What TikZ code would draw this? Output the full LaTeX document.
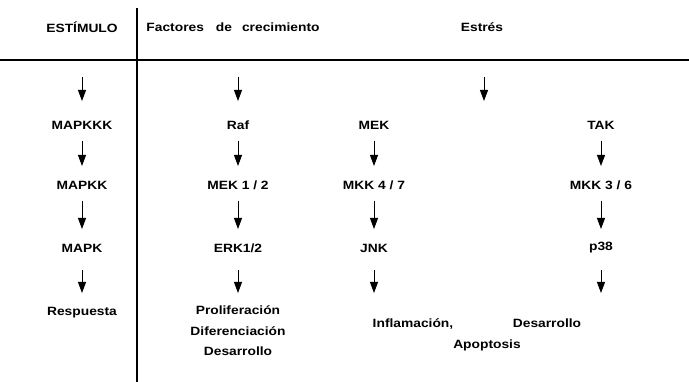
\documentclass[tikz,border=0pt]{standalone}
\usepackage{fontspec}
\setmainfont{Liberation Sans}[FakeStretch=1.15]
\usetikzlibrary{arrows.meta}
\begin{document}
\begin{tikzpicture}[x=1pt,y=-1pt,
  lbl/.style={font=\fontsize{12}{14}\selectfont\bfseries, inner sep=1pt, align=center},
  arr/.style={line width=0.9pt, -{Triangle[width=8pt,length=11pt]}, shorten <=16pt, shorten >=19pt},
  tarr/.style={line width=0.9pt, -{Triangle[width=8pt,length=11pt]}},
  rule/.style={line width=1.6pt}]
\useasboundingbox (0,0) rectangle (689,382);
% frame lines
\draw[rule] (0,60) -- (689,60);
\draw[rule] (137,8) -- (137,382);
% headers
\node[lbl] (h1) at (82,27) {ESTÍMULO};
\node[lbl] (h2) at (233,27) {Factores\hspace{12pt}de\hspace{10pt}crecimiento};
\node[lbl] (h3) at (482,27) {Estrés};
% column 1
\node[lbl] (a1) at (82,125) {MAPKKK};
\node[lbl] (a2) at (82,185) {MAPKK};
\node[lbl] (a3) at (82,248) {MAPK};
\node[lbl] (a4) at (82,313) {Respuesta};
% column 2
\node[lbl] (b1) at (238,125) {Raf};
\node[lbl] (b2) at (238,185) {MEK 1 / 2};
\node[lbl] (b3) at (238,248) {ERK1/2};
\node[lbl, anchor=north] (b4) at (238,304) {Proliferación\\[7pt]Diferenciación\\[7pt]Desarrollo};
% column 3
\node[lbl] (c1) at (374,125) {MEK};
\node[lbl] (c2) at (374,185) {MKK 4 / 7};
\node[lbl] (c3) at (374,248) {JNK};
\node[lbl] (c4) at (413,324) {Inflamación,};
% column 4
\node[lbl] (d1) at (601,125) {TAK};
\node[lbl] (d2) at (601,185) {MKK 3 / 6};
\node[lbl] (d3) at (601,248) {p38};
\node[lbl] (d4) at (547,323) {Desarrollo};
\node[lbl] (e4) at (487,345) {Apoptosis};
% free ends of arrows
\coordinate (sa) at (82,77);   \coordinate (ta) at (82,101);
\coordinate (sb) at (238,77);  \coordinate (tb) at (238,101);
\coordinate (sc) at (484,77);  \coordinate (tc) at (484,101);
\coordinate (tr) at (82,293);  \coordinate (tp) at (238,293);
\coordinate (tj) at (374,293); \coordinate (tq) at (601,293);
\draw[tarr] (sa) -- (ta);
\draw[tarr] (sb) -- (tb);
\draw[tarr] (sc) -- (tc);
% column arrows
\draw[arr] (a1.center) -- (a2.center);
\draw[arr] (a2.center) -- (a3.center);
\draw[arr, shorten >=0pt, shorten <=22pt] (a3.center) -- (tr);
\draw[arr] (b1.center) -- (b2.center);
\draw[arr] (b2.center) -- (b3.center);
\draw[arr, shorten >=0pt, shorten <=22pt] (b3.center) -- (tp);
\draw[arr] (c1.center) -- (c2.center);
\draw[arr] (c2.center) -- (c3.center);
\draw[arr, shorten >=0pt, shorten <=22pt] (c3.center) -- (tj);
\draw[arr] (d1.center) -- (d2.center);
\draw[arr] (d2.center) -- (d3.center);
\draw[arr, shorten >=0pt, shorten <=22pt] (d3.center) -- (tq);
\end{tikzpicture}
\end{document}
